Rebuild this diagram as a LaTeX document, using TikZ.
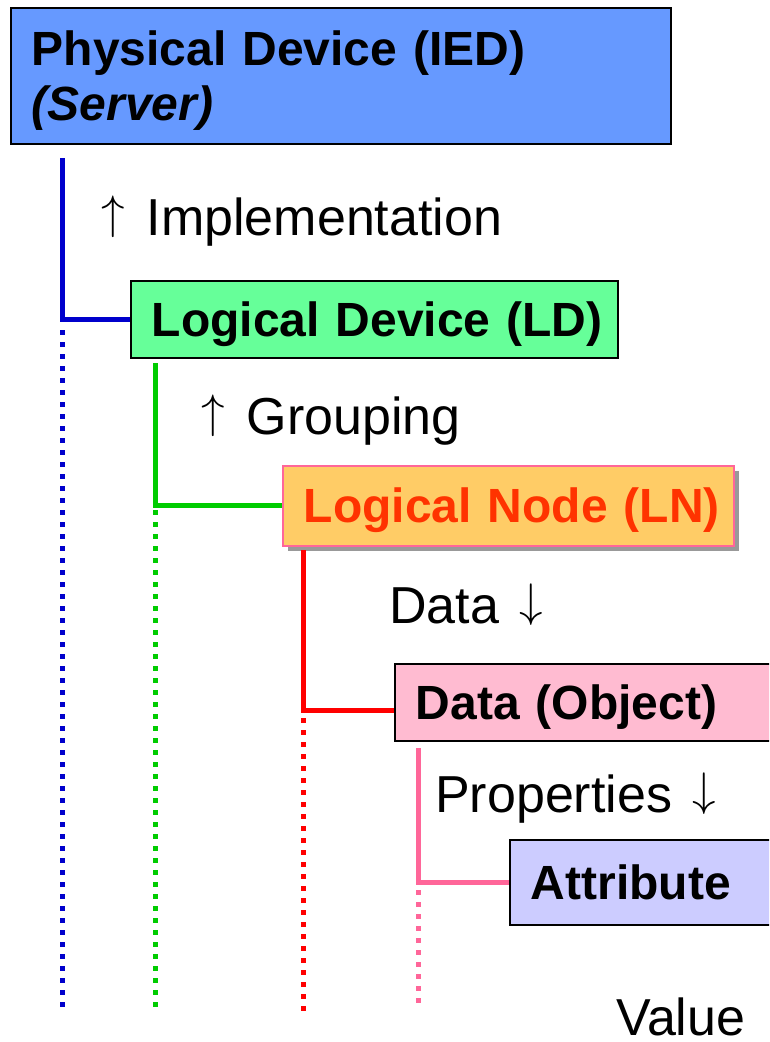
\RequirePackage{fix-cm}
\documentclass[tikz,border=0pt]{standalone}
\usepackage{fontspec}
\setmainfont{Liberation Sans}
\usetikzlibrary{shadows}

\definecolor{iedblue}{RGB}{102,153,255}
\definecolor{ldgreen}{RGB}{102,255,153}
\definecolor{lnorange}{RGB}{255,204,102}
\definecolor{lntext}{RGB}{255,51,0}
\definecolor{dopink}{RGB}{255,187,209}
\definecolor{attrlilac}{RGB}{204,204,255}
\definecolor{linkblue}{RGB}{0,0,204}
\definecolor{linkgreen}{RGB}{0,204,0}
\definecolor{linkred}{RGB}{255,0,0}
\definecolor{linkpink}{RGB}{255,102,153}

\newcommand{\upar}{{\fontsize{47}{50}\selectfont\raisebox{7pt}{$\uparrow$}}\hspace{22pt}}
\newcommand{\downar}{\hspace{20pt}{\fontsize{47}{50}\selectfont\raisebox{7pt}{$\downarrow$}}}

\begin{document}
\begin{tikzpicture}[x=1pt, y=-1pt,
    box/.style={draw=black, line width=1.5pt, anchor=north west, inner xsep=21pt, inner ysep=0pt, align=left, font=\fontsize{48}{55}\selectfont\bfseries},
    onebox/.style={box, text height=34pt, text depth=0pt},
    link/.style={line width=5pt},
    dots/.style={line width=5pt, dash pattern=on 5pt off 7pt},
    lbl/.style={anchor=base west, inner sep=0pt, font=\fontsize{52}{60}\selectfont}]

    \useasboundingbox (0,0) rectangle (769,1042);
    \clip (0,0) rectangle (769,1042);

    % boxes of the hierarchy
    \node[box, fill=iedblue, text width=618pt, minimum height=136pt] (ied) at (10,7) {\rule{0pt}{45pt}Physical Device (IED)\\\textit{(Server)}};
    \node[onebox, fill=ldgreen, text width=445pt, minimum height=77pt] (ld) at (130,280) {\mbox{Logical Device (LD)}};
    \node[onebox, fill=lnorange, draw=linkpink, text=lntext, text width=409pt, minimum height=80pt,
          drop shadow={shadow xshift=5pt, shadow yshift=-5pt, fill=black!40, opacity=1}] (ln) at (282,465) {\mbox{Logical Node (LN)}};
    \node[onebox, fill=dopink, text width=358pt, minimum height=77pt] (dobj) at (394,663) {\mbox{Data (Object)}};
    \node[onebox, fill=attrlilac, text width=258pt, minimum height=85pt] (attr) at (509,839) {\mbox{Attribute}};

    \coordinate (B1) at (62,158);
    \coordinate (B2) at (62,330);
    \coordinate (B3) at (62,1010);
    \coordinate (G1) at (155,363);
    \coordinate (G2) at (155,510);
    \coordinate (G3) at (155,1012);
    \coordinate (R1) at (303,550);
    \coordinate (R2) at (303,718);
    \coordinate (R3) at (303,1012);
    \coordinate (P1) at (418,748);
    \coordinate (P2) at (418,890);
    \coordinate (P3) at (418,1008);

    \draw[link, linkblue] (B1) |- (ld.west);
    \draw[link, linkgreen] (G1) |- (ln.west);
    \draw[link, linkred] (R1) |- ([yshift=-8.5pt]dobj.west);
    \draw[link, linkpink] (P1) |- (attr.west);

    \draw[dots, linkblue] (B2) -- (B3);
    \draw[dots, linkgreen] (G2) -- (G3);
    \draw[dots, linkred] (R2) -- (R3);
    \draw[dots, linkpink] (P2) -- (P3);

    \node[lbl] (impl) at (101,235) {\upar Implementation};
    \node[lbl] (grp) at (201,434) {\upar Grouping};
    \node[lbl] (dat) at (389,623) {Data\downar};
    \node[lbl] (prop) at (435,812) {Properties\downar};
    \node[lbl] (val) at (616,1035) {Value};
\end{tikzpicture}
\end{document}
